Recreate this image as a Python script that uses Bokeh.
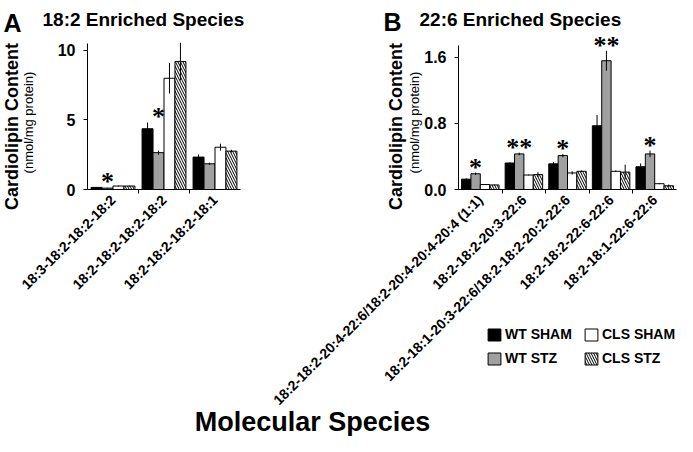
import math
from bokeh.plotting import figure
from bokeh.models import (Range1d, LinearAxis, FixedTicker, NumeralTickFormatter, Label,
                          LabelSet, Legend, LegendItem, ColumnDataSource)
from bokeh.embed import file_html
from bokeh.resources import INLINE

FONT = "Liberation Sans"

# ---------------- data ----------------
groups = ["WT SHAM", "WT STZ", "CLS SHAM", "CLS STZ"]

species_a = ["18:3-18:2-18:2-18:2", "18:2-18:2-18:2-18:2", "18:2-18:2-18:2-18:1"]
wt_sham_a = [0.15, 4.37, 2.33]
wt_sham_a_err = [0.02, 0.45, 0.18]
wt_stz_a = [0.10, 2.65, 1.85]
wt_stz_a_err = [0.02, 0.15, 0.08]
cls_sham_a = [0.25, 8.00, 3.04]
cls_sham_a_err = [0.03, 1.10, 0.25]
cls_stz_a = [0.25, 9.20, 2.76]
cls_stz_a_err = [0.03, 1.35, 0.10]
sig_a = ["*", "*", ""]
yticks_a = [0, 5, 10]
ymax_a = 10.5

species_b = ["18:2-18:2-20:4-22:6/18:2-20:4-20:4-20:4 (1:1)", "18:2-18:2-20:3-22:6",
             "18:2-18:1-20:3-22:6/18:2-18:2-20:2-22:6", "18:2-18:2-22:6-22:6",
             "18:2-18:1-22:6-22:6"]
wt_sham_b = [0.125, 0.32, 0.31, 0.77, 0.275]
wt_sham_b_err = [0.010, 0.010, 0.020, 0.130, 0.040]
wt_stz_b = [0.19, 0.43, 0.41, 1.556, 0.43]
wt_stz_b_err = [0.015, 0.015, 0.020, 0.120, 0.040]
cls_sham_b = [0.06, 0.175, 0.20, 0.22, 0.07]
cls_sham_b_err = [0.005, 0.005, 0.020, 0.010, 0.005]
cls_stz_b = [0.055, 0.18, 0.22, 0.21, 0.045]
cls_stz_b_err = [0.005, 0.030, 0.010, 0.090, 0.015]
sig_b = ["*", "**", "*", "**", "*"]
yticks_b = [0.0, 0.8, 1.6]
ymax_b = 1.74

# ---------------- layout / style ----------------
W, H = 677, 436
group_fill = ["black", "#a0a0a0", "white", "white"]
group_hatch = [" ", " ", " ", "\\"]
offsets = [-0.3225, -0.1075, 0.1075, 0.3225]
BAR_W = 0.215

# panel frames in canvas pixels (x from left, y from top)
A_LEFT, A_RIGHT, A_TOP, A_ZERO = 87, 240, 43, 189
B_LEFT, B_RIGHT, B_TOP, B_ZERO = 458, 676, 45, 189


def ranges(n, ymax, left, right, top, zero):
    kx = (right - left) / n
    ky = (zero - top) / ymax
    xr = Range1d(-left / kx, (W - left) / kx)
    yr = Range1d(-(H - zero) / ky, zero / ky)
    return xr, yr


xa, ya = ranges(len(species_a), ymax_a, A_LEFT, A_RIGHT, A_TOP, A_ZERO)
xb, yb = ranges(len(species_b), ymax_b, B_LEFT, B_RIGHT, B_TOP, B_ZERO)

p = figure(width=W, height=H, x_range=xa, y_range=ya, output_backend="svg",
           toolbar_location=None, x_axis_location=None, y_axis_location=None,
           min_border_left=0, min_border_right=0, min_border_top=0, min_border_bottom=0)
p.extra_x_ranges = {"xb": xb}
p.extra_y_ranges = {"yb": yb}
p.outline_line_color = None
p.grid.visible = False
p.background_fill_color = "white"
p.border_fill_color = "white"


def draw_panel(species, means, errs, sig, ymax, yticks, yfmt, xrn, yrn):
    n = len(species)
    items = []
    for j, g in enumerate(groups):
        xs = [i + 0.5 + offsets[j] for i in range(n)]
        src = ColumnDataSource(dict(x=xs, top=means[j]))
        r = p.vbar(x="x", top="top", bottom=0, width=BAR_W, source=src,
                   fill_color=group_fill[j], line_color="black", line_width=1,
                   hatch_pattern=group_hatch[j], hatch_color="black", hatch_scale=5,
                   hatch_weight=1, x_range_name=xrn, y_range_name=yrn)
        items.append(LegendItem(label=g, renderers=[r]))
    for j, g in enumerate(groups):
        xs = [i + 0.5 + offsets[j] for i in range(n)]
        lo = [m - e for m, e in zip(means[j], errs[j])]
        hi = [m + e for m, e in zip(means[j], errs[j])]
        p.segment(x0=xs, y0=lo, x1=xs, y1=hi, line_color="black", line_width=1,
                  x_range_name=xrn, y_range_name=yrn)

    # significance stars above the WT STZ bars
    sx, sy, st = [], [], []
    for i in range(n):
        if sig[i]:
            sx.append(i + 0.5 + offsets[1])
            sy.append(max(means[0][i] + errs[0][i], means[1][i] + errs[1][i]))
            st.append(sig[i])
    stars = LabelSet(x="x", y="y", text="t", source=ColumnDataSource(dict(x=sx, y=sy, t=st)),
                     text_font=FONT, text_font_style="bold", text_font_size="26px",
                     text_color="black", text_align="center", text_baseline="alphabetic",
                     y_offset=-3, x_range_name=xrn, y_range_name=yrn)
    p.add_layout(stars)

    yax = LinearAxis(ticker=FixedTicker(ticks=yticks), formatter=NumeralTickFormatter(format=yfmt),
                     fixed_location=0, bounds=(0, ymax),
                     x_range_name=xrn, y_range_name=yrn,
                     major_tick_in=0, major_tick_out=4, minor_tick_in=0, minor_tick_out=0,
                     major_label_text_font=FONT, major_label_text_font_style="bold",
                     major_label_text_font_size="16px", major_label_text_color="black",
                     major_label_standoff=8, axis_line_color="black",
                     major_tick_line_color="black")
    p.add_layout(yax, "left")

    centers = [i + 0.5 for i in range(n)]
    xax = LinearAxis(ticker=FixedTicker(ticks=centers, minor_ticks=list(range(1, n))),
                     major_label_overrides={c: s for c, s in zip(centers, species)},
                     major_label_orientation=math.pi / 4,
                     fixed_location=0, bounds=(0, n),
                     x_range_name=xrn, y_range_name=yrn,
                     major_tick_line_color=None, major_tick_in=0, major_tick_out=0,
                     minor_tick_in=0, minor_tick_out=4, minor_tick_line_color="black",
                     major_label_text_font=FONT, major_label_text_font_style="bold",
                     major_label_text_font_size="14px", major_label_text_color="black",
                     major_label_standoff=4, axis_line_color="black")
    p.add_layout(xax, "below")
    return items


items_a = draw_panel(species_a, [wt_sham_a, wt_stz_a, cls_sham_a, cls_stz_a],
                     [wt_sham_a_err, wt_stz_a_err, cls_sham_a_err, cls_stz_a_err],
                     sig_a, ymax_a, yticks_a, "0", "default", "default")
items_b = draw_panel(species_b, [wt_sham_b, wt_stz_b, cls_sham_b, cls_stz_b],
                     [wt_sham_b_err, wt_stz_b_err, cls_sham_b_err, cls_stz_b_err],
                     sig_b, ymax_b, yticks_b, "0.0", "xb", "yb")


def text(x, y, t, size, bold=True, angle=0.0, align="left", baseline="alphabetic"):
    # x, y in canvas pixels from the top-left corner
    p.add_layout(Label(x=x, y=H - y, x_units="screen", y_units="screen", text=t,
                       angle=angle, text_font=FONT, text_font_size=size,
                       text_font_style="bold" if bold else "normal", text_color="black",
                       text_align=align, text_baseline=baseline))


text(3, 22, "A", "25px")
text(42, 19, "18:2 Enriched Species", "19px")
text(383, 21, "B", "25px")
text(419, 19, "22:6 Enriched Species", "19px")
text(11, 126, "Cardiolipin Content", "18px", angle=math.pi / 2, align="center", baseline="middle")
text(28, 122, "(nmol/mg protein)", "13px", bold=False, angle=math.pi / 2, align="center",
     baseline="middle")
text(395, 126, "Cardiolipin Content", "18px", angle=math.pi / 2, align="center", baseline="middle")
text(414, 122, "(nmol/mg protein)", "13px", bold=False, angle=math.pi / 2, align="center",
     baseline="middle")
text(312, 421, "Molecular Species", "27px", align="center")

legend = Legend(items=items_b, location=(486, H - 366), orientation="vertical", nrows=2,
                glyph_width=16, glyph_height=15, label_standoff=3, spacing=8,
                padding=0, margin=0, border_line_color=None, background_fill_alpha=0,
                label_text_font=FONT, label_text_font_style="bold",
                label_text_font_size="14px", label_text_color="black",
                label_width=70, label_height=15)
p.add_layout(legend)

open("out.html", "w").write(file_html(p, INLINE))
